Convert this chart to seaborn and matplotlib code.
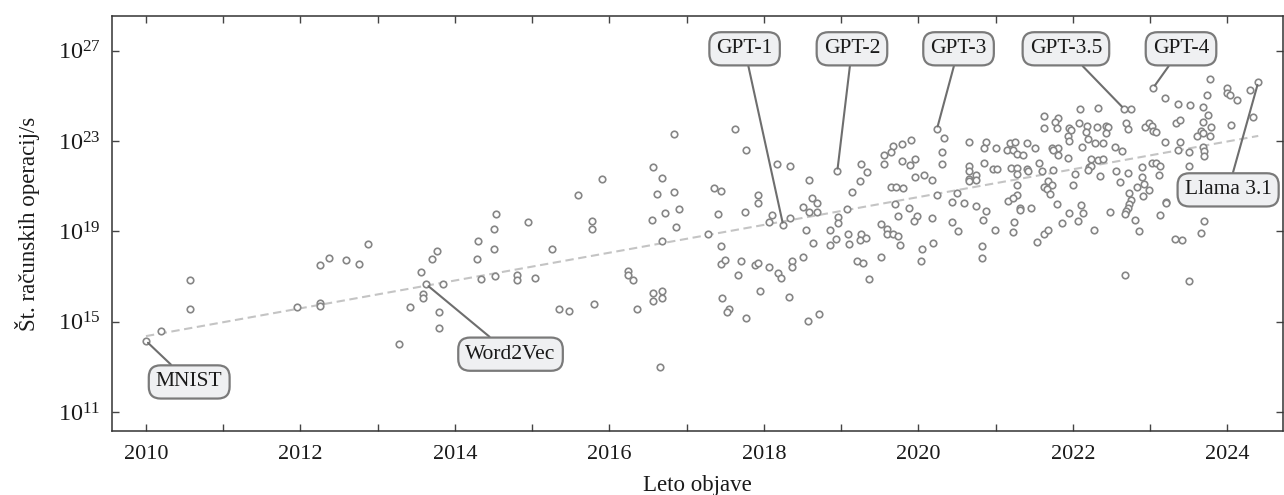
import numpy as np
import pandas as pd
import seaborn as sns
import matplotlib.pyplot as plt
from matplotlib.ticker import FixedLocator, NullLocator, MultipleLocator

# Year of publication and log10 of the number of operations
years = [
    2010.00, 2010.19, 2010.57, 2010.57, 2011.95, 2012.25, 2012.25, 2012.25, 2012.37, 2012.59,
    2012.76, 2012.88, 2013.28, 2013.42, 2013.56, 2013.59, 2013.59, 2013.63, 2013.70, 2013.77,
    2013.80, 2013.80, 2013.84, 2014.28, 2014.30, 2014.34, 2014.50, 2014.51, 2014.53, 2014.52,
    2014.94, 2015.26, 2014.80, 2014.81, 2015.04, 2015.35, 2015.48, 2015.59, 2015.77, 2015.77,
    2015.80, 2015.91, 2016.24, 2016.24, 2016.31, 2016.36, 2016.57, 2016.68, 2016.61, 2016.84,
    2016.72, 2016.55, 2016.90, 2016.86, 2016.68, 2016.57, 2016.68, 2016.57, 2016.68, 2016.66,
    2016.83,
    2017.63, 2017.77, 2018.17, 2018.34, 2018.58, 2018.95, 2017.36, 2017.45, 2017.93, 2017.93,
    2017.40, 2017.76, 2018.10, 2018.07, 2018.25, 2018.34, 2018.62, 2018.69, 2018.50, 2018.58,
    2018.69, 2018.55, 2018.63, 2018.86, 2018.93, 2018.85, 2018.96, 2018.96, 2017.28, 2017.44,
    2017.44, 2017.50, 2017.70, 2017.67, 2017.89, 2017.93, 2018.06, 2018.18, 2018.22, 2018.36,
    2018.36, 2018.50, 2017.95, 2017.46, 2017.55, 2017.52, 2017.77, 2018.32, 2018.57, 2018.71,
    2020.24, 2020.33, 2020.30, 2020.30, 2019.91, 2019.79, 2019.67, 2019.64, 2019.55, 2019.55,
    2019.79, 2019.89, 2019.96, 2019.26, 2019.34, 2019.24, 2019.14, 2019.95, 2020.07, 2020.17,
    2019.65, 2019.71, 2019.80, 2020.24, 2020.50, 2020.65, 2020.87, 2020.85, 2020.85, 2020.65,
    2020.65, 2020.65, 2020.65, 2020.75, 2020.75, 2019.70, 2019.88, 2019.73, 2019.98, 2019.94,
    2020.17, 2020.44, 2020.59, 2020.74, 2020.88, 2020.84, 2020.43, 2020.51, 2019.07, 2019.52,
    2019.59, 2019.59, 2019.67, 2019.74, 2019.76, 2019.09, 2019.10, 2019.26, 2019.25, 2019.32,
    2019.51, 2019.21, 2019.28, 2019.36, 2020.05, 2020.03, 2020.19, 2020.82, 2020.82,
    2022.09, 2022.33, 2022.66, 2022.75, 2021.62, 2021.81, 2021.77, 2021.62, 2021.79, 2021.95,
    2021.97, 2021.94, 2021.95, 2022.08, 2022.18, 2022.17, 2022.19, 2022.31, 2022.43, 2022.45,
    2022.43, 2022.69, 2022.72, 2022.12, 2022.29, 2022.39, 2022.54, 2022.64, 2021.94, 2022.23,
    2022.33, 2022.39, 2022.21, 2022.24, 2022.19, 2022.03, 2022.35, 2022.56, 2022.71, 2022.61,
    2022.73, 2022.75, 2022.73, 2022.71, 2022.69, 2022.67, 2022.83, 2022.81, 2022.48, 2022.11,
    2022.13, 2022.06, 2021.95, 2021.86, 2021.80, 2022.00, 2022.27, 2022.68, 2021.00, 2021.15,
    2021.18, 2021.25, 2021.23, 2021.28, 2021.36, 2021.41, 2021.51, 2021.73, 2021.81, 2021.74,
    2021.81, 2021.56, 2021.60, 2021.74, 2020.97, 2021.02, 2021.20, 2021.28, 2021.28, 2021.40,
    2021.42, 2021.28, 2021.28, 2021.16, 2021.23, 2021.32, 2021.32, 2021.46, 2021.24, 2021.22,
    2020.99, 2021.53, 2021.63, 2021.68, 2021.63, 2021.68, 2021.73, 2021.66, 2021.70,
    2023.04, 2023.77, 2023.99, 2023.99, 2024.03, 2024.13, 2024.29, 2024.40, 2024.33, 2023.19,
    2023.36, 2023.51, 2023.68, 2023.73, 2023.75, 2023.33, 2023.39, 2022.94, 2022.98, 2023.02,
    2023.04, 2023.08, 2023.68, 2023.79, 2023.66, 2023.61, 2023.69, 2023.77, 2024.05, 2023.19,
    2023.39, 2023.36, 2023.50, 2023.69, 2023.70, 2023.70, 2023.50, 2023.02, 2023.08, 2023.13,
    2023.11, 2022.89, 2022.89, 2022.92, 2022.91, 2022.98, 2023.20, 2023.21, 2023.13, 2022.85,
    2023.70, 2023.66, 2023.32, 2023.41, 2023.50,
]
log_ops = [
    14.15, 14.59, 16.84, 15.57, 15.63, 15.83, 15.69, 17.49, 17.80, 17.73,
    17.55, 18.42, 14.00, 15.67, 17.20, 16.22, 16.03, 16.65, 17.76, 18.14,
    15.41, 14.71, 16.69, 17.76, 18.56, 16.90, 18.20, 19.12, 19.77, 17.02,
    19.40, 18.22, 17.06, 16.84, 16.92, 15.57, 15.47, 20.60, 19.46, 19.10,
    15.79, 21.31, 17.24, 17.05, 16.84, 15.58, 21.84, 21.37, 20.67, 20.76,
    19.83, 19.50, 20.00, 19.18, 18.56, 16.28, 16.38, 15.92, 16.07, 12.97,
    23.33,
    23.55, 22.59, 21.97, 21.88, 21.28, 21.66, 20.94, 20.80, 20.61, 20.24,
    19.77, 19.84, 19.72, 19.40, 19.27, 19.58, 20.48, 20.24, 20.07, 19.87,
    19.84, 19.06, 18.47, 19.06, 18.66, 18.41, 19.62, 19.38, 18.88, 18.34,
    17.55, 17.73, 17.70, 17.05, 17.52, 17.61, 17.43, 17.15, 16.93, 17.70,
    17.43, 17.87, 16.35, 16.07, 15.55, 15.41, 15.15, 16.09, 15.05, 15.34,
    23.53, 23.15, 22.53, 21.97, 23.06, 22.86, 22.80, 22.53, 22.37, 21.97,
    22.13, 21.94, 22.21, 21.97, 21.65, 21.22, 20.74, 21.40, 21.51, 21.28,
    20.95, 20.95, 20.91, 20.62, 20.71, 22.95, 22.95, 22.68, 22.04, 21.91,
    21.67, 21.33, 21.23, 21.51, 21.28, 20.23, 20.02, 19.69, 19.68, 19.44,
    19.59, 20.31, 20.26, 20.11, 19.91, 19.50, 19.40, 19.00, 19.98, 19.31,
    19.12, 18.88, 18.88, 18.81, 18.38, 18.88, 18.42, 18.88, 18.61, 18.72,
    17.85, 17.68, 17.58, 16.87, 18.22, 17.71, 18.48, 18.35, 17.80,
    24.44, 24.47, 24.44, 24.44, 24.10, 24.04, 23.84, 23.57, 23.60, 23.60,
    23.48, 23.23, 22.99, 23.79, 23.67, 23.39, 23.11, 23.63, 23.67, 23.64,
    23.35, 23.79, 23.54, 22.74, 22.90, 22.92, 22.74, 22.55, 22.25, 22.20,
    22.16, 22.20, 21.84, 21.90, 21.72, 21.54, 21.47, 21.66, 21.60, 21.19,
    20.71, 20.38, 20.21, 20.05, 19.91, 19.77, 20.95, 19.49, 19.87, 20.17,
    19.81, 19.44, 19.83, 19.38, 20.21, 21.07, 19.06, 17.09, 22.71, 22.59,
    22.90, 22.95, 22.61, 22.44, 22.39, 22.93, 22.71, 22.70, 22.71, 22.59,
    22.39, 22.02, 21.69, 21.72, 21.76, 21.76, 21.81, 21.82, 21.54, 21.75,
    21.69, 21.04, 20.60, 20.35, 20.48, 20.03, 19.93, 20.05, 19.40, 18.98,
    19.06, 18.51, 18.87, 19.05, 20.98, 21.23, 21.05, 20.86, 20.67,
    25.36, 25.73, 25.36, 25.12, 25.03, 24.81, 25.28, 25.61, 24.06, 24.90,
    24.64, 24.62, 24.50, 25.05, 24.15, 23.82, 23.94, 23.64, 23.79, 23.69,
    23.45, 23.42, 23.84, 23.61, 23.46, 23.23, 23.35, 23.23, 23.73, 22.98,
    22.98, 22.62, 22.52, 22.75, 22.56, 22.34, 21.91, 22.02, 22.02, 21.90,
    21.50, 21.84, 21.42, 21.10, 20.58, 20.82, 20.30, 20.24, 19.72, 19.03,
    19.44, 18.93, 18.66, 18.60, 16.80,
]

# Dashed trend line (start / end)
trend_years = [2010.0, 2024.4]
trend_log_ops = [14.36, 23.23]

# Labelled models
model_names = ["MNIST", "Word2Vec", "GPT-1", "GPT-2", "GPT-3", "GPT-3.5", "GPT-4", "Llama 3.1"]
model_years = [2010.00, 2013.63, 2018.25, 2018.95, 2020.24, 2022.66, 2023.04, 2024.40]
model_log_ops = [14.15, 16.65, 19.27, 21.66, 23.53, 24.44, 25.36, 25.61]

df = pd.DataFrame({"leto": years, "ops": np.power(10.0, log_ops)})
trend = pd.DataFrame({"leto": trend_years, "ops": np.power(10.0, trend_log_ops)})

sns.set_theme(style="ticks")
plt.rcParams["font.family"] = ["Liberation Serif", "DejaVu Serif"]
plt.rcParams["mathtext.fontset"] = "custom"
plt.rcParams["mathtext.rm"] = "Liberation Serif"
plt.rcParams["mathtext.it"] = "Liberation Serif:italic"

fig, ax = plt.subplots(figsize=(12.84, 4.95), dpi=100)
fig.subplots_adjust(left=0.0872, right=0.9992, top=0.968, bottom=0.129)

ax.set_yscale("log")
sns.lineplot(data=trend, x="leto", y="ops", ax=ax, color="#c4c4c4",
             linewidth=1.5, linestyle=(0, (4, 2.2)), zorder=1)
sns.scatterplot(data=df, x="leto", y="ops", ax=ax, s=22, marker="o",
                facecolor="white", edgecolor="#868686", linewidth=1.2, zorder=2)

# label boxes (layout, in data units: year, log10)
box_pos = {
    "MNIST": (2010.56, 12.33),
    "Word2Vec": (2014.72, 13.56),
    "GPT-1": (2017.75, 27.09),
    "GPT-2": (2019.14, 27.09),
    "GPT-3": (2020.52, 27.09),
    "GPT-3.5": (2021.91, 27.09),
    "GPT-4": (2023.40, 27.09),
    "Llama 3.1": (2024.01, 20.84),
}
for name, yr, lg in zip(model_names, model_years, model_log_ops):
    bx, by = box_pos[name]
    ax.annotate(name, xy=(yr, 10 ** lg), xytext=(bx, 10 ** by),
                ha="center", va="center", fontsize=15.5, color="#1a1a1a",
                bbox=dict(boxstyle="round,pad=0.33,rounding_size=0.55",
                          fc="#eff0f2", ec="#7a7a7a", lw=1.6),
                arrowprops=dict(arrowstyle="-", color="#6e6e6e", lw=1.5,
                                shrinkA=0, shrinkB=2),
                zorder=3)

ax.set_xlim(2009.56, 2024.72)
ax.set_ylim(10 ** 10.15, 10 ** 28.55)
ax.xaxis.set_major_locator(MultipleLocator(2))
ax.xaxis.set_minor_locator(MultipleLocator(1))
ax.yaxis.set_major_locator(FixedLocator([1e11, 1e15, 1e19, 1e23, 1e27]))
ax.yaxis.set_minor_locator(NullLocator())
ax.tick_params(which="both", direction="in", top=True, right=True,
               length=5, width=1, color="#444444", labelcolor="#1a1a1a")
ax.tick_params(axis="x", labelsize=16, pad=10)
ax.tick_params(axis="y", labelsize=17.5, pad=8)

for sp in ax.spines.values():
    sp.set_visible(True)
    sp.set_color("#333333")
    sp.set_linewidth(1.1)

ax.set_xlabel("Leto objave", fontsize=16.5, color="#1a1a1a", labelpad=8)
ax.set_ylabel("Št. računskih operacij/s", fontsize=16.5, color="#1a1a1a", labelpad=13)

fig.savefig("out.png", dpi=100)
